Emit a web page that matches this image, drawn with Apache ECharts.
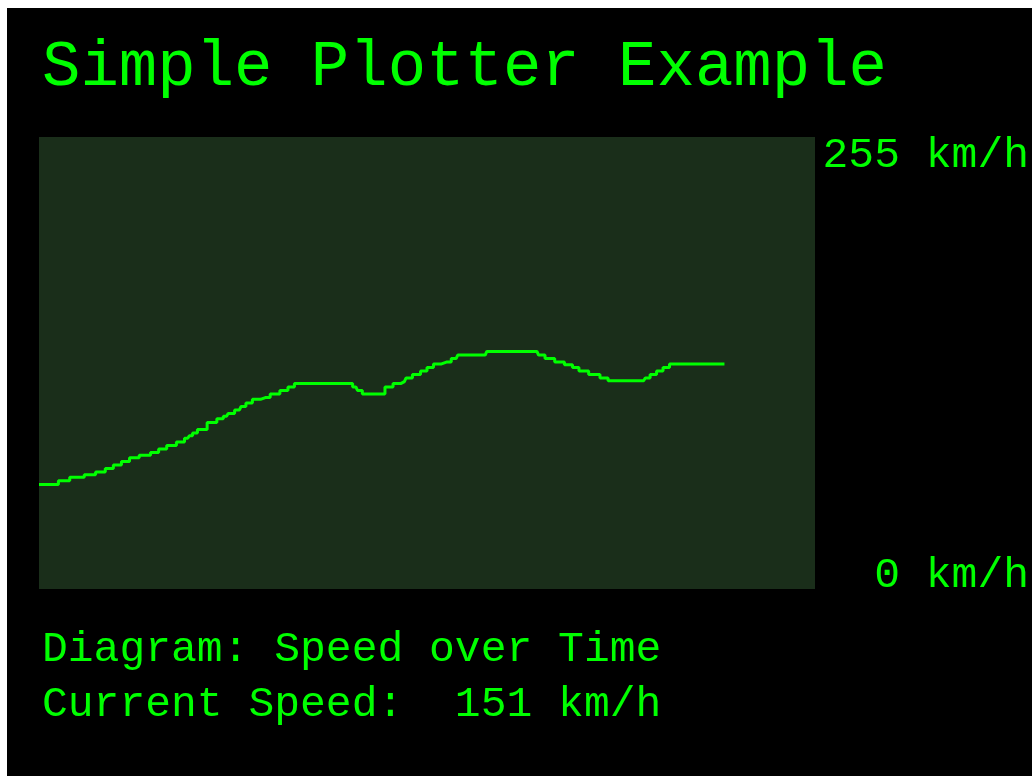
<!DOCTYPE html>
<html>
<head>
<meta charset="utf-8">
<title>Simple Plotter Example</title>
<script src="https://cdn.jsdelivr.net/npm/echarts@6/dist/echarts.min.js"></script>
<style>
  html, body { margin: 0; padding: 0; background: #fff; }
  #myChart { width: 1032px; height: 776px; }
</style>
</head>
<body>
<div id="myChart"></div>
<script>
// sample index (display ticks) and speed in km/h
var sampleTimes = [0, 5, 7, 12, 16, 19, 22, 24, 27, 29, 33, 36, 38, 41, 44, 46, 47, 48, 50, 54,
  56, 58, 59, 62, 63, 65, 67, 70, 73, 76, 78, 80, 82, 96, 98, 99, 101, 106, 108, 111,
  113, 114, 117, 119, 121, 123, 126, 129, 130, 138, 139, 154, 155, 158, 161, 164, 166, 168, 172, 175,
  177, 187, 188, 190, 192, 194, 196, 212]
var speeds = [59, 59, 61, 63, 64.5, 66, 68, 70, 72, 74, 75.5, 77, 79, 81, 83, 85, 86.5, 88, 90, 94,
  96, 97.5, 99, 101, 103, 105, 107, 108, 110, 112, 114, 116, 116, 116, 114, 112, 110, 110, 114, 116,
  117, 119, 121, 123, 125, 127, 128, 130, 132, 132, 134, 134, 132, 130, 128, 126.5, 125, 123, 121, 119,
  117.5, 117.5, 119, 121, 123, 125, 127, 127]
var speedRange = [0, 255]
var rangeLabels = ['255 km/h', '0 km/h']
var titleText = 'Simple Plotter Example'
var infoLines = ['Diagram: Speed over Time', 'Current Speed:  151 km/h']

var GREEN = '#00ff00'
var FONT = '"Liberation Mono", "DejaVu Sans Mono", monospace'

var myChart = echarts.init(document.getElementById('myChart'))

var points = sampleTimes.map(function (t, i) { return [t, speeds[i]] })

var option = {
  backgroundColor: '#ffffff',
  animation: false,
  grid: {
    left: 39,
    top: 137,
    width: 776,
    height: 452,
    show: true,
    backgroundColor: '#1a2e1a',
    borderWidth: 0
  },
  xAxis: {
    type: 'value',
    min: 0,
    max: 240,
    show: false
  },
  yAxis: {
    type: 'value',
    min: speedRange[0],
    max: speedRange[1],
    show: false
  },
  graphic: [
    // black screen panel
    {
      type: 'rect',
      z: -10,
      shape: { x: 7, y: 8, width: 1025, height: 768 },
      style: { fill: '#000' }
    },
    {
      type: 'text',
      x: 42,
      y: 68,
      style: { text: titleText, fill: GREEN, font: '64px ' + FONT, verticalAlign: 'middle' }
    },
    {
      type: 'text',
      x: 1029,
      y: 156,
      style: { text: rangeLabels[0], fill: GREEN, font: '43px ' + FONT, align: 'right', verticalAlign: 'middle' }
    },
    {
      type: 'text',
      x: 1029,
      y: 576,
      style: { text: rangeLabels[1], fill: GREEN, font: '43px ' + FONT, align: 'right', verticalAlign: 'middle' }
    },
    {
      type: 'text',
      x: 42,
      y: 650,
      style: { text: infoLines[0], fill: GREEN, font: '43px ' + FONT, verticalAlign: 'middle' }
    },
    {
      type: 'text',
      x: 42,
      y: 705,
      style: { text: infoLines[1], fill: GREEN, font: '43px ' + FONT, verticalAlign: 'middle' }
    }
  ],
  series: [
    {
      type: 'line',
      data: points,
      step: 'middle',
      showSymbol: false,
      lineStyle: { color: GREEN, width: 3 },
      z: 5
    }
  ]
}
myChart.setOption(option)
</script>
</body>
</html>
